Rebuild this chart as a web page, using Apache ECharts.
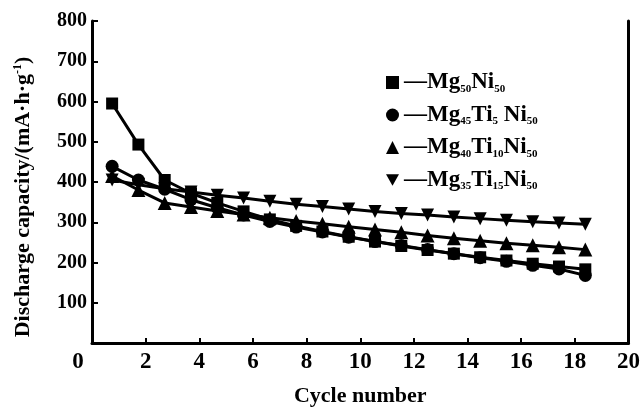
<!DOCTYPE html>
<html>
<head>
<meta charset="utf-8">
<script src="https://cdn.jsdelivr.net/npm/echarts@6/dist/echarts.min.js"></script>
<style>
html, body { margin: 0; padding: 0; background: #fff; }
#container { width: 643px; height: 412px; }
</style>
</head>
<body>
<div id="container"></div>
<script>
// cycle positions as they sit on the picture (points drawn a bit left of the integers)
var cycles = [0.75, 1.73, 2.71, 3.69, 4.67, 5.65, 6.63, 7.61, 8.59, 9.57, 10.55, 11.53, 12.51, 13.49, 14.47, 15.45, 16.43, 17.41, 18.39];

var mg50Ni50     = [595, 493, 405, 372, 348, 327, 307, 291, 277, 264, 252, 241, 231, 222, 213, 205, 197, 190, 183];
var mg45Ti5Ni50  = [439, 405, 382, 356, 336, 318, 302, 288, 276, 263, 252, 242, 232, 222, 212, 203, 193, 184, 168];
var mg40Ti10Ni50 = [415, 380, 348, 338, 328, 319, 311, 303, 296, 289, 282, 275, 267, 260, 254, 248, 243, 238, 232];
var mg35Ti15Ni50 = [405, 393, 383, 375, 367, 360, 352, 345, 339, 333, 327, 322, 318, 313, 309, 305, 301, 298, 295];

var seriesNames = ['Mg50Ni50', 'Mg45Ti5Ni50', 'Mg40Ti10Ni50', 'Mg35Ti15Ni50'];
var legendRich = {
  'Mg50Ni50':     '{b|—Mg}{s|50}{b|Ni}{s|50}',
  'Mg45Ti5Ni50':  '{b|—Mg}{s|45}{b|Ti}{s|5}{b| Ni}{s|50}',
  'Mg40Ti10Ni50': '{b|—Mg}{s|40}{b|Ti}{s|10}{b|Ni}{s|50}',
  'Mg35Ti15Ni50': '{b|—Mg}{s|35}{b|Ti}{s|15}{b|Ni}{s|50}'
};
var xTicks = [0, 2, 4, 6, 8, 10, 12, 14, 16, 18, 20];
var yTicks = [100, 200, 300, 400, 500, 600, 700, 800];

var serif = 'Liberation Serif, Times New Roman, serif';
var downTri = 'path://M0,0 L10,0 L5,9 Z';

function pairs(vals) {
  var out = [];
  for (var i = 0; i < vals.length; i++) {
    out.push([cycles[i], vals[i]]);
  }
  return out;
}

function makeSeries(name, vals, symbol, size) {
  return {
    name: name,
    type: 'line',
    data: pairs(vals),
    symbol: symbol,
    symbolSize: size,
    lineStyle: { color: '#000', width: 3 },
    itemStyle: { color: '#000' },
    animation: false
  };
}

var dom = document.getElementById('container');
var myChart = echarts.init(dom);

var option = {
  backgroundColor: '#fff',
  animation: false,
  grid: { left: 92, right: 14, top: 21, bottom: 64 },
  legend: {
    orient: 'vertical',
    left: 381,
    top: 66,
    itemWidth: 13,
    itemHeight: 13,
    itemGap: 9,
    data: [
      { name: seriesNames[0], icon: 'rect' },
      { name: seriesNames[1], icon: 'circle' },
      { name: seriesNames[2], icon: 'triangle' },
      { name: seriesNames[3], icon: downTri }
    ],
    formatter: function (name) { return legendRich[name]; },
    textStyle: {
      color: '#000',
      rich: {
        b: { fontFamily: serif, fontWeight: 'bold', fontSize: 23, color: '#000', lineHeight: 24 },
        s: { fontFamily: serif, fontWeight: 'bold', fontSize: 11, color: '#000', verticalAlign: 'bottom', lineHeight: 24, padding: [10, 0, 0, 0] }
      }
    }
  },
  xAxis: {
    type: 'value',
    min: 0,
    max: 20,
    interval: 2,
    name: 'Cycle number',
    nameLocation: 'middle',
    nameGap: 42,
    nameTextStyle: { fontFamily: serif, fontWeight: 'bold', fontSize: 22, color: '#000' },
    axisLine: { show: true, onZero: false, lineStyle: { color: '#000', width: 3 } },
    axisTick: { show: true, inside: true, length: 5, lineStyle: { color: '#000', width: 2 } },
    axisLabel: {
      margin: 8,
      fontFamily: serif, fontWeight: 'bold', fontSize: 23, color: '#000',
      formatter: function (v) {
        if (v === 0) return '{z|0}';
        return xTicks.indexOf(v) >= 0 ? String(v) : '';
      },
      rich: { z: { fontFamily: serif, fontWeight: 'bold', fontSize: 23, color: '#000', padding: [0, 28, 0, 0] } }
    },
    splitLine: { show: false }
  },
  yAxis: [{
    type: 'value',
    min: 0,
    max: 800,
    interval: 100,
    name: 'Discharge capacity/(mA·h·g{sup|-1})',
    nameLocation: 'middle',
    nameGap: 58,
    nameRotate: 90,
    nameTextStyle: {
      fontFamily: serif, fontWeight: 'bold', fontSize: 22, color: '#000',
      padding: [0, 0, 0, -30],
      rich: { sup: { fontFamily: serif, fontWeight: 'bold', fontSize: 12, color: '#000', verticalAlign: 'top', padding: [0, 0, 8, 0] } }
    },
    axisLine: { show: true, lineStyle: { color: '#000', width: 3 } },
    axisTick: { show: true, inside: true, length: 6, lineStyle: { color: '#000', width: 2 } },
    axisLabel: {
      margin: 5,
      showMinLabel: false,
      fontFamily: serif, fontWeight: 'bold', fontSize: 20, color: '#000',
      formatter: function (v) { return yTicks.indexOf(v) >= 0 ? String(v) : ''; }
    },
    splitLine: { show: false }
  }, {
    type: 'value',
    position: 'right',
    min: 0,
    max: 800,
    interval: 100,
    axisLine: { show: true, lineStyle: { color: '#000', width: 3 } },
    axisTick: { show: false },
    axisLabel: { show: false },
    splitLine: { show: false }
  }],
  series: [
    makeSeries(seriesNames[0], mg50Ni50, 'rect', 12),
    makeSeries(seriesNames[1], mg45Ti5Ni50, 'circle', 13),
    makeSeries(seriesNames[2], mg40Ti10Ni50, 'triangle', 14),
    makeSeries(seriesNames[3], mg35Ti15Ni50, downTri, 13)
  ]
};

myChart.setOption(option);
</script>
</body>
</html>
